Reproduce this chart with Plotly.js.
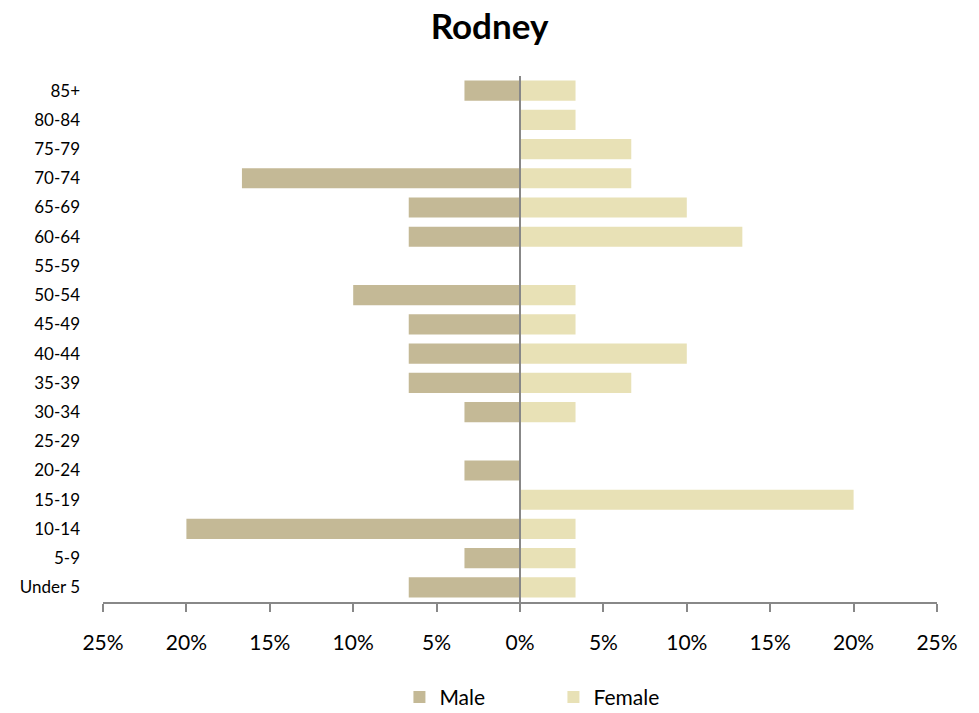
<!DOCTYPE html>
<html>
<head>
<meta charset="utf-8">
<script src="https://cdn.plot.ly/plotly-3.0.1.min.js"></script>
<style>html,body{margin:0;padding:0;background:#fff;}#chart{width:979px;height:713px;}</style>
</head>
<body>
<div id="chart"></div>
<script>
const categories = ["Under 5","5-9","10-14","15-19","20-24","25-29","30-34","35-39","40-44","45-49","50-54","55-59","60-64","65-69","70-74","75-79","80-84","85+"];
const maleValues = [6.67,3.33,20,0,3.33,0,3.33,6.67,6.67,6.67,10,0,6.67,6.67,16.67,0,0,3.33];
const femaleValues = [3.33,3.33,3.33,20,0,0,3.33,6.67,10,3.33,3.33,0,13.33,10,6.67,6.67,3.33,3.33];
const tickValues = [-25,-20,-15,-10,-5,0,5,10,15,20,25];
const tickLabels = ["25%","20%","15%","10%","5%","0%","5%","10%","15%","20%","25%"];

const font = "Lato, 'Open Sans', sans-serif";
const data = [
  {type:"bar", orientation:"h", name:"Male", y:categories, x:maleValues.map(v=>-v),
   marker:{color:"#C4B996"}, hoverinfo:"skip"},
  {type:"bar", orientation:"h", name:"Female", y:categories, x:femaleValues,
   marker:{color:"#E8E1B6"}, hoverinfo:"skip"}
];
const layout = {
  width:979, height:713,
  paper_bgcolor:"#fff", plot_bgcolor:"#fff",
  margin:{l:103, r:42, t:76, b:111, autoexpand:false},
  barmode:"relative", bargap:0.31,
  font:{family:font, color:"#000"},
  title:{text:"<b>Rodney</b>", x:0.5, xanchor:"center", y:0.962, yanchor:"middle", font:{size:35, family:font, color:"#000"}},
  xaxis:{range:[-25,25], tickvals:tickValues, ticktext:tickLabels, showgrid:false, zeroline:false, automargin:false,
         showline:true, linecolor:"#888", linewidth:2, ticks:"outside", ticklen:8, tickwidth:2, tickcolor:"#888",
         tickfont:{size:21, family:font}, ticklabelstandoff:13, fixedrange:true},
  yaxis:{type:"category", categoryorder:"array", categoryarray:categories, showgrid:false, automargin:false,
         zeroline:false, showline:false, ticks:"", tickfont:{size:17, family:font}, ticklabelstandoff:22},
  shapes:[{type:"line", xref:"x", yref:"paper", x0:0, x1:0, y0:0, y1:1, line:{color:"#888", width:2}}],
  legend:{orientation:"h", xref:"container", yref:"container", x:0.408, xanchor:"left", y:0.022, yanchor:"middle",
          font:{size:21, family:font}, entrywidth:109, entrywidthmode:"pixels", traceorder:"normal", itemwidth:30},
  showlegend:true
};
Plotly.newPlot("chart", data, layout, {staticPlot:true, displayModeBar:false});
</script>
</body>
</html>
